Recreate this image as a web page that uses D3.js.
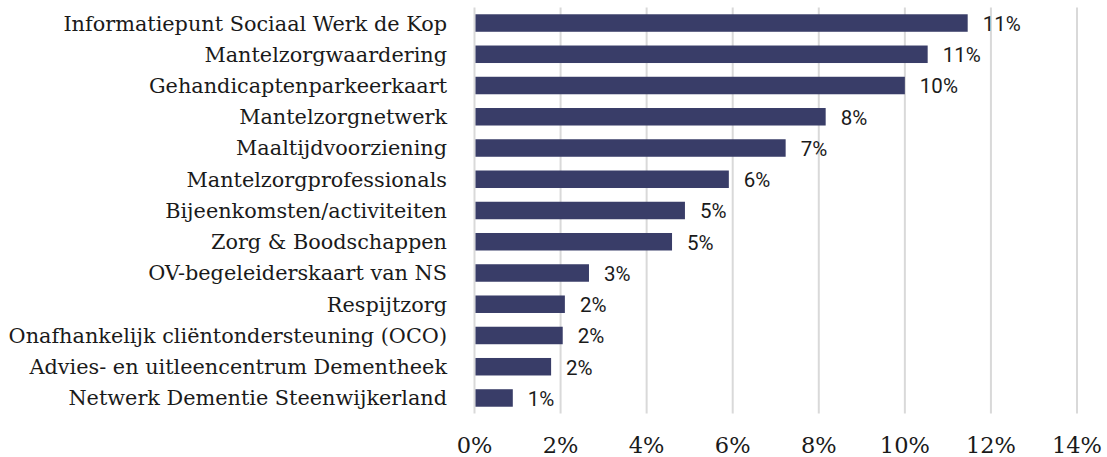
<!DOCTYPE html>
<html>
<head>
<meta charset="utf-8">
<script src="https://cdn.jsdelivr.net/npm/d3@7"></script>
<style>
  html, body { margin: 0; padding: 0; background: #ffffff; }
  svg { display: block; }
</style>
</head>
<body>
<div id="chart"></div>
<script>
const categories = [
  "Informatiepunt Sociaal Werk de Kop",
  "Mantelzorgwaardering",
  "Gehandicaptenparkeerkaart",
  "Mantelzorgnetwerk",
  "Maaltijdvoorziening",
  "Mantelzorgprofessionals",
  "Bijeenkomsten/activiteiten",
  "Zorg & Boodschappen",
  "OV-begeleiderskaart van NS",
  "Respijtzorg",
  "Onafhankelijk cliëntondersteuning (OCO)",
  "Advies- en uitleencentrum Dementheek",
  "Netwerk Dementie Steenwijkerland"
];
const values = [0.1146, 0.1053, 0.1000, 0.0816, 0.0723, 0.0591, 0.0489, 0.0459, 0.0266, 0.0210, 0.0205, 0.0178, 0.0089];
const tickValues = [0, 0.02, 0.04, 0.06, 0.08, 0.10, 0.12, 0.14];
const tickLabels = ["0%", "2%", "4%", "6%", "8%", "10%", "12%", "14%"];

const W = 1107, H = 457;
const svg = d3.select("#chart").append("svg").attr("width", W).attr("height", H);

const x = d3.scaleLinear().domain([0, 0.14]).range([474.5, 1077]);
const y = d3.scaleBand().domain(categories).range([7.4, 413.6]).paddingInner(0.44).paddingOuter(0.22);

// gridlines
svg.append("g").selectAll("line").data(tickValues).join("line")
  .attr("x1", d => x(d)).attr("x2", d => x(d))
  .attr("y1", y.range()[0]).attr("y2", y.range()[1])
  .attr("stroke", "#d9d9d9").attr("stroke-width", 2);

// bars
svg.append("g").selectAll("rect").data(values).join("rect")
  .attr("x", x(0) + 1)
  .attr("y", (d, i) => y(categories[i]))
  .attr("width", d => x(d) - x(0) - 1)
  .attr("height", y.bandwidth())
  .attr("fill", "#393d68");

// value labels
const fmt = d3.format(".0%");
svg.append("g").selectAll("text").data(values).join("text")
  .attr("x", d => x(d) + 15)
  .attr("y", (d, i) => y(categories[i]) + y.bandwidth() / 2)
  .attr("dy", "0.38em")
  .attr("font-family", "Roboto, 'Liberation Sans', sans-serif")
  .attr("font-size", 20.5)
  .attr("fill", "#1a1a1a")
  .text(d => fmt(d));

// category labels
svg.append("g").selectAll("text").data(categories).join("text")
  .attr("x", 447)
  .attr("y", d => y(d) + y.bandwidth() / 2)
  .attr("dy", "0.36em")
  .attr("text-anchor", "end")
  .attr("font-family", "'DejaVu Serif', serif")
  .attr("font-size", 20.8)
  .attr("fill", "#1a1a1a")
  .text(d => d);

// x axis tick labels
svg.append("g").selectAll("text").data(tickValues).join("text")
  .attr("x", d => x(d))
  .attr("y", 453)
  .attr("text-anchor", "middle")
  .attr("font-family", "'DejaVu Serif', serif")
  .attr("font-size", 22.5)
  .attr("fill", "#1a1a1a")
  .text((d, i) => tickLabels[i]);
</script>
</body>
</html>
